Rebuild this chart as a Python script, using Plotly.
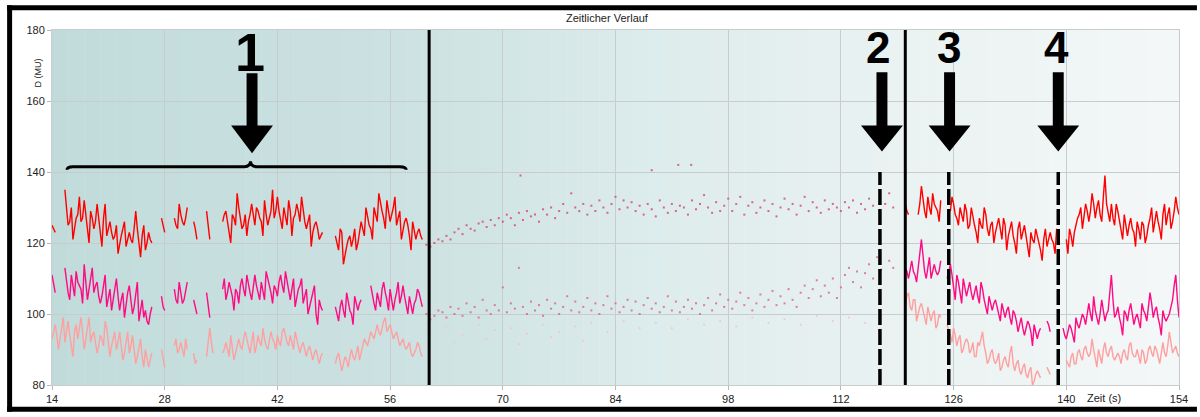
import plotly.graph_objects as go

# ---------------- data ----------------
X_TICKS = [14, 28, 42, 56, 70, 84, 98, 112, 126, 140, 154]
Y_TICKS = [80, 100, 120, 140, 160, 180]

# samples every 0.4 s (A) plus in-between samples (B, offset 0.2 s)
LEFT_START, RIGHT_START, STEP = 14.0, 120.0, 0.4

RED_LEFT = [125, 123, None, None, 135, 125, 130, 124, 128, 126,
            132, 125, 129, 124, 131, 123, 127, 122, 126, 121,
            125, 120, 124, 119, 123, 120, 129, 119, 122, 118,
            123, 120, None, None, 127, 123, None, None, 127, 124,
            128, 125, 130, None, 126, 121, None, None, 129, 121,
            None, None, None, 126, 129, 124, 128, 125, 130, 124,
            128, 126, 131, 125, 129, 126, 132, 125, 129, 127,
            133, 126, 130, 125, 129, 127, 131, 126, 129, 124,
            128, 123, 126, 121, 123, None, None, None, 122, 118,
            123, 117, 121, 119, 124, 120, 126, 122, 127, 124,
            130, 126, 131, 127, 132, 126, 130, 125, 129, 124,
            127, 122, 126, 121, 124, 121]
RED_LEFT_B = [124, None, None, None, 129, 126, 121, 127, 133, 127,
              128, 120, 127, 126, 127, 119, 131, 124, 123, 122,
              117, 122, 126, 121, 121, 124, 124, 116, 125, 120,
              121, None, None, None, 125, None, None, None, 125, 131,
              126, 127, None, None, 124, None, None, None, 125, None,
              None, None, None, 128, 126, 120, 127, 134, 127, 125,
              122, 128, 128, 130, 127, 122, 128, 127, 135, 129,
              129, 124, 127, 132, 122, 128, 129, 133, 126, 126,
              119, 125, 124, 122, None, None, None, None, 120, 124,
              114, 119, 122, 121, 118, 123, 124, 130, 125, 121,
              128, 134, 129, 124, 129, 128, 133, 127, 121, 126,
              125, 118, 123, 123, 122, None]
MAG_LEFT = [111, 106, None, None, 113, 106, 111, 105, 109, 107,
            114, 104, 110, 106, 109, 103, 108, 102, 107, 104,
            110, 101, 106, 103, 108, 100, 105, 98, 104, 101,
            97, 102, None, None, 105, 101, None, None, 107, 103,
            106, 104, 109, None, 104, 100, None, None, 106, 99,
            None, None, None, 107, 104, 109, 105, 107, 103, 110,
            105, 108, 104, 111, 106, 109, 104, 110, 106, 108,
            105, 111, 106, 109, 104, 110, 105, 108, 103, 107,
            102, 106, 100, 104, 101, None, None, None, 102, 98,
            104, 99, 103, 100, 105, 101, 104, None, None, 108,
            103, 106, 102, 109, 104, 107, 101, 106, 103, 108,
            102, 105, 100, 104, 106, 102]
MAG_LEFT_B = [108, None, None, None, 109, 104, 108, 112, 108, 103,
              109, 107, 113, 108, 105, 105, 111, 105, 101, 107,
              105, 104, 99, 106, 104, 102, 109, 101, 99, 98,
              100, None, None, None, 102, None, None, None, 104, 109,
              103, 107, None, None, 102, None, None, None, 102, None,
              None, None, None, 110, 106, 107, 101, 106, 108, 107,
              111, 106, 108, 108, 104, 106, 112, 108, 103, 107,
              109, 108, 112, 107, 107, 102, 107, 110, 105, 100,
              104, 108, 97, 102, None, None, None, None, 100, 102,
              101, 106, 101, 97, 103, 103, None, None, None, 105,
              101, 104, 107, 106, 101, 104, 104, 109, 105, 105,
              100, 102, 103, 107, 104, None]
SAL_LEFT = [93, 97, 90, 96, 92, 98, 91, 95, 93, 99,
            90, 96, 92, 95, 89, 94, 91, 96, 88, 93,
            90, 95, 87, 92, 89, 94, 86, 91, 88, 90,
            85, 89, None, None, 90, 85, None, None, 91, 89,
            92, 88, 90, None, 89, 87, None, None, 88, 96,
            89, None, None, 89, 92, 88, 91, 89, 93, 90,
            95, 91, 92, 89, 94, 91, 93, 90, 95, 92,
            94, 91, 96, 92, 94, 90, 93, 89, 92, 88,
            91, 87, 90, 86, 89, None, None, None, 86, 89,
            84, 88, 85, 90, 87, 91, 89, 93, 91, 95,
            93, 97, 94, 98, 95, 97, 93, 95, 91, 93,
            90, 92, 88, 90, 91, 88]
SAL_LEFT_B = [95, 94, 93, 99, 95, 94, 88, 97, 96, 95,
              93, 99, 94, 92, 91, 93, 98, 92, 91, 95,
              92, 90, 89, 95, 91, 90, 88, 93, 85, 87,
              87, None, None, None, 87, None, None, None, 93, 90,
              90, 93, None, None, 86, None, None, None, 92, 92,
              None, None, None, 90, 90, 94, 87, 91, 91, 93,
              93, 89, 95, 91, 92, 96, 91, 93, 93, 90,
              92, 95, 94, 91, 92, 95, 91, 91, 90, 90,
              89, 89, 88, 88, None, None, None, None, 88, 86,
              86, 87, 88, 88, 89, 87, 91, 92, 93, 94,
              95, 95, 96, 99, 96, 95, 94, 93, 92, 91,
              91, 89, 89, 92, 89, None]

RED_RIGHT = [131, 128, None, None, 128, 136, 129, 133, 128, 131,
             129, 132, None, None, 129, 131, 127, 130, 126, 129,
             125, 127, 123, 127, 124, 128, 122, 126, 123, 127,
             121, 125, 122, 126, 120, 124, 121, 125, 119, 123,
             120, 122, 118, 121, 119, 123, 120, 124, None, None,
             121, 124, 119, 125, 128, 124, 131, 126, 134, 127,
             132, 126, 139, 128, 131, 125, 129, 124, 128, 122,
             127, 123, 126, 121, 125, 122, 127, 123, 129, 124,
             128, 125, 130, 126, 133, 128]
RED_RIGHT_B = [129, None, None, None, 131, 132, 127, 130, 134, 130,
               126, None, None, None, 133, 128, 125, 128, 131, 124,
               130, 125, 120, 125, 130, 124, 125, 120, 125, 124,
               127, 118, 124, 122, 117, 126, 123, 122, 116, 121,
               124, 120, 115, 124, 121, 121, 117, None, None, None,
               117, 122, 123, 127, 130, 128, 129, 129, 131, 130,
               128, 133, 131, 126, 127, 131, 126, 121, 125, 125,
               124, 119, 124, 126, 120, 125, 130, 126, 126, 121,
               131, 128, 124, 129, 130, None]
MAG_RIGHT = [113, 110, 115, 111, 114, 121, 112, 113, 110, 114,
             111, 115, None, 110, 114, 107, 111, 106, 110, 105,
             109, 104, 108, 103, 107, 102, 105, 101, 104, 100,
             103, 99, 102, 97, 100, 95, 99, 94, 98, 95,
             97, 93, 96, None, 98, 95, None, None, None, 96,
             93, 97, 94, 99, 96, 100, 97, 103, 98, 101,
             97, 104, 98, 101, 111, 99, 102, 97, 101, 98,
             103, 97, 100, 96, 101, 98, 106, 99, 102, 97,
             101, 98, 100, 104, 111, 99]
MAG_RIGHT_B = [112, 113, 112, 109, 117, 116, 110, 116, 112, 112,
               112, None, None, 112, 111, 104, 109, 103, 107, 107,
               106, 106, 105, 109, 104, 100, 103, 103, 102, 98,
               101, 101, 99, 101, 98, 97, 96, 96, 97, 91,
               95, 95, None, None, 97, None, None, None, None, 94,
               95, 96, 92, 97, 98, 99, 100, 100, 105, 99,
               100, 101, 100, 106, 104, 100, 99, 94, 100, 101,
               100, 99, 98, 103, 100, 102, 103, 101, 99, 94,
               99, 99, 102, 108, 104, None]
SAL_RIGHT = [103, 106, 101, 104, 100, 103, 99, 102, 98, 101,
             97, 99, None, 97, 94, 96, 91, 94, 90, 93,
             89, 92, 88, 91, 95, 89, 87, 90, 86, 89,
             85, 88, 85, 91, 84, 87, 83, 86, 82, 85,
             81, 84, 82, None, 85, 83, None, None, None, None,
             87, 85, 89, 86, 90, 87, 91, 88, 93, 87,
             90, 86, 92, 88, 91, 87, 89, 86, 90, 87,
             92, 88, 90, 86, 89, 87, 91, 88, 90, 86,
             92, 88, 95, 89, 91, 88]
SAL_RIGHT_B = [105, 102, 104, 98, 102, 101, 97, 100, 100, 96,
               100, None, None, 95, 92, 94, 93, 89, 92, 92,
               90, 88, 92, 93, 91, 86, 89, 87, 87, 84,
               87, 86, 89, 86, 86, 84, 85, 83, 84, 80,
               83, 83, None, None, 84, None, None, None, None, None,
               86, 88, 86, 89, 88, 90, 89, 89, 90, 85,
               88, 90, 89, 90, 88, 88, 88, 89, 88, 91,
               89, 88, 88, 90, 86, 90, 89, 91, 88, 89,
               89, 91, 92, 90, 89, None]

DOT_HI_T = [60.5, 61.0, 61.5, 62.0, 62.5, 63.0, 63.5, 64.0, 64.5, 65.0, 65.5, 66.0, 66.5, 67.0,
            67.5, 68.0, 68.5, 69.0, 69.5, 70.0, 70.5, 71.0, 71.5, 72.0, 72.2, 72.5, 73.0, 73.5,
            74.0, 74.5, 75.0, 75.5, 76.0, 76.5, 77.0, 77.5, 78.0, 78.5, 79.0, 79.5, 80.0, 80.5,
            81.0, 81.5, 82.0, 82.5, 83.0, 83.5, 84.0, 84.5, 85.0, 85.5, 86.0, 86.5, 87.0, 87.5,
            88.0, 88.5, 88.5, 89.0, 89.5, 90.0, 90.5, 91.0, 91.5, 91.8, 92.0, 92.5, 93.0, 93.4,
            93.5, 94.0, 94.5, 95.0, 95.5, 96.0, 96.5, 97.0, 97.5, 98.0, 98.5, 99.0, 99.5, 100.0,
            100.5, 101.0, 101.5, 102.0, 102.5, 103.0, 103.5, 104.0, 104.5, 105.0, 105.5, 106.0,
            106.5, 107.0, 107.5, 108.0, 108.5, 109.0, 109.5, 110.0, 110.5, 111.0, 111.5, 112.0,
            112.5, 113.0, 113.5, 114.0, 114.5, 115.0, 115.5, 116.0, 117.5, 118.0, 118.5]
DOT_HI_V = [119.5, 119, 120, 121, 120.5, 122, 121, 123, 124, 122.5, 125, 124, 123.5, 125.5,
            126, 124.5, 126.5, 125, 127, 126, 128, 127, 125, 128.5, 139, 126.5, 129, 127.5,
            128, 126, 129.5, 128, 130, 127, 129, 131, 128.5, 134, 130, 129, 131, 128,
            130.5, 129, 132, 130, 128.5, 131, 133, 129.5, 132, 130, 131.5, 129, 130.5, 128,
            131, 129.5, 140.5, 127.5, 132, 130, 128.5, 131, 129, 142, 130.5, 130, 128, 142,
            132, 129.5, 131, 133.5, 130, 128.5, 131.5, 129, 130.5, 132.5, 129, 131, 133, 128,
            130.5, 131.5, 128.5, 130, 132, 129, 131, 127.5, 130, 132.5, 129.5, 131,
            128, 130.5, 133, 129, 131.5, 130, 128.5, 132, 129.5, 131, 130, 129,
            131.5, 130, 132, 128.5, 131, 129.5, 132.5, 130.5, 131, 134, 130]

DOT_LO_T = [60.5, 61.0, 61.5, 62.0, 62.5, 63.0, 63.5, 64.0, 64.5, 65.0, 65.5, 66.0, 66.5, 67.0,
            67.5, 68.0, 68.5, 69.0, 69.5, 70.0, 70.5, 71.0, 71.5, 72.0, 72.5, 73.0, 73.5, 74.0,
            74.5, 75.0, 75.5, 76.0, 76.5, 77.0, 77.5, 78.0, 78.5, 79.0, 79.5, 80.0, 80.5, 81.0,
            81.5, 82.0, 82.5, 83.0, 83.5, 84.0, 84.5, 85.0, 85.5, 86.0, 86.5, 87.0, 87.5, 88.0,
            88.5, 89.0, 89.5, 90.0, 90.5, 91.0, 91.5, 92.0, 92.5, 93.0, 93.5, 94.0, 94.5, 95.0,
            95.5, 96.0, 96.5, 97.0, 97.5, 98.0, 98.5, 99.0, 99.5, 100.0, 100.5, 101.0, 101.5,
            102.0, 102.5, 103.0, 103.5, 104.0, 104.5, 105.0, 105.5, 106.0, 106.5, 107.0, 107.5,
            108.0, 108.5, 109.0, 109.5, 110.0, 110.5, 111.0, 111.5, 112.0, 112.5, 113.0, 113.5,
            114.0, 114.5, 115.0, 115.5, 116.0, 116.5, 117.0, 118.0, 118.5]
DOT_LO_V = [100, 98.5, 99.5, 101, 100.5, 99, 102, 100, 101.5, 99.5, 103, 100.5, 102, 99,
            104, 101, 100, 102.5, 101, 107.5, 100.5, 103, 101.5, 113, 102, 100, 103.5, 101,
            102.5, 99.5, 104, 101.5, 103, 100, 102, 105, 101, 103.5, 100.5, 102, 104.5, 101,
            103, 100, 102.5, 105, 101.5, 103, 100.5, 102, 104, 101, 103.5, 100, 102.5, 104.5,
            101.5, 103, 100.5, 102, 105, 101, 103.5, 100.5, 102, 104, 101.5, 103, 100, 102.5,
            104.5, 101, 103, 105.5, 102, 104, 101.5, 103.5, 106, 102.5, 104.5, 101, 103,
            105.5, 102, 104, 106.5, 102.5, 105, 103, 107, 104, 102, 106, 108,
            104.5, 107, 109.5, 105, 108, 106, 110, 104.5, 107.5, 111, 113, 109,
            112, 107.5, 111.5, 114, 110, 116, 112.5, 115, 113]

DOT_FAINT_T = [61, 63, 64, 65, 67, 68, 69, 71, 72, 73, 75, 76, 77, 79, 80, 81, 83, 85, 87,
               89, 91, 93, 95, 97, 99, 101, 103, 105, 107, 109, 111, 113, 115, 117]
DOT_FAINT_V = [95, 96.5, 92, 94, 97, 93, 95.5, 96, 91.5, 94.5, 97, 93.5, 95, 96.5, 92.5, 97.5,
               95, 98, 96, 97.5, 96, 98.5, 97, 98, 96.5, 99, 97.5, 98.5, 97, 99.5, 98, 99,
               97.5, 99.5]

# event markers
SOLID_LINES = [60.85, 120.0]
DASHED_LINES = [116.85, 125.4, 139.0]
LABELS = ["1", "2", "3", "4"]
LABEL_T = [38.6, 116.6, 125.4, 138.8]
ARROW_T = [38.85, 117.1, 125.5, 139.0]

# ---------------- figure ----------------
PL, PR, PT, PB = 52, 18, 30, 27
W, H = 1200, 417
PW, PH = W - PL - PR, H - PT - PB


def px(x):
    return (x - PL) / PW


def py(y):
    return (H - PB - y) / PH


def merge(a, b, start):
    ts, vs = [], []
    for i in range(len(a)):
        ts.append(start + STEP * i)
        vs.append(a[i])
        if i < len(b):
            ts.append(start + STEP * i + STEP / 2)
            vs.append(b[i])
    return ts, vs


RED = "#ff0000"
MAG = "#ff0a84"
SAL = "#ffa0a0"

fig = go.Figure()

for a, b, start, col in [
    (SAL_LEFT, SAL_LEFT_B, LEFT_START, SAL), (MAG_LEFT, MAG_LEFT_B, LEFT_START, MAG),
    (RED_LEFT, RED_LEFT_B, LEFT_START, RED),
    (SAL_RIGHT, SAL_RIGHT_B, RIGHT_START, SAL), (MAG_RIGHT, MAG_RIGHT_B, RIGHT_START, MAG),
    (RED_RIGHT, RED_RIGHT_B, RIGHT_START, RED),
]:
    tt, vv = merge(a, b, start)
    fig.add_trace(go.Scatter(x=tt, y=vv, mode="lines",
                             line=dict(color=col, width=1.4), hoverinfo="skip"))

fig.add_trace(go.Scatter(x=DOT_FAINT_T, y=DOT_FAINT_V, mode="markers",
                         marker=dict(symbol="square", size=1.8, color="#f2c4d0"), hoverinfo="skip"))
fig.add_trace(go.Scatter(x=DOT_LO_T, y=DOT_LO_V, mode="markers",
                         marker=dict(symbol="square", size=2, color="#e0607f", opacity=0.8),
                         hoverinfo="skip"))
fig.add_trace(go.Scatter(x=DOT_HI_T, y=DOT_HI_V, mode="markers",
                         marker=dict(symbol="square", size=2, color="#d84468", opacity=0.8),
                         hoverinfo="skip"))

shapes = []

# background gradient (left teal to right near-white)
stops = [(14, (193, 219, 219)), (60, (205, 226, 226)), (90, (222, 236, 236)),
         (120, (234, 242, 242)), (154, (244, 247, 247))]
N = 70
for k in range(N):
    x0 = 14 + k * 140 / N
    x1 = 14 + (k + 1) * 140 / N
    xm = (x0 + x1) / 2
    for (a, ca), (b, cb) in zip(stops[:-1], stops[1:]):
        if a <= xm <= b:
            f = (xm - a) / (b - a)
            c = tuple(round(ca[j] + (cb[j] - ca[j]) * f) for j in range(3))
            break
    shapes.append(dict(type="rect", xref="x", yref="paper", x0=x0, x1=x1 + 0.05, y0=0, y1=1,
                       fillcolor="rgb(%d,%d,%d)" % c, line=dict(width=0), layer="below"))

# solid and dashed event lines
for s in SOLID_LINES:
    shapes.append(dict(type="line", xref="x", yref="y", x0=s, x1=s, y0=80, y1=180,
                       line=dict(color="black", width=3), layer="above"))
for d in DASHED_LINES:
    shapes.append(dict(type="line", xref="x", yref="y", x0=d, x1=d, y0=80, y1=140,
                       line=dict(color="black", width=3.5, dash="16px,4px"), layer="above"))


# arrows
def arrow(c, yt, yb, ytip, hs=0.68, hh=2.6):
    p = (f"M {c-hs},{yt} L {c+hs},{yt} L {c+hs},{yb} L {c+hh},{yb} L {c},{ytip} "
         f"L {c-hh},{yb} L {c-hs},{yb} Z")
    return dict(type="path", xref="x", yref="y", path=p, fillcolor="black",
                line=dict(color="black", width=0), layer="above")


shapes.append(arrow(ARROW_T[0], 167.8, 153.1, 145.3))
for c in ARROW_T[1:]:
    shapes.append(arrow(c, 168.1, 153.1, 145.8))

# bracket over region 1
bp = ("M 15.86,140.6 Q 15.86,141.5 16.6,141.5 L 37.9,141.5 Q 38.66,141.5 38.66,143 "
      "Q 38.66,141.5 39.4,141.5 L 57.2,141.5 Q 58.0,141.5 58.0,140.6")
shapes.append(dict(type="path", xref="x", yref="y", path=bp,
                   line=dict(color="black", width=3), layer="above"))

# outer black frame (top, left, bottom)
for (x0, y0, x1, y1) in [(7, 5, 1200, 10), (7, 5, 12, 417), (7, 412, 1200, 417)]:
    shapes.append(dict(type="rect", xref="paper", yref="paper",
                       x0=px(x0), x1=px(x1), y0=py(y1), y1=py(y0),
                       fillcolor="black", line=dict(width=0), layer="above"))

annotations = []
FONT = "Liberation Sans, Arial, sans-serif"
for lab, t in zip(LABELS, LABEL_T):
    big = lab == "1"
    annotations.append(dict(x=t, y=173.9 if big else 175.0, xref="x", yref="y",
                            text=f"<b>{lab}</b>", showarrow=False,
                            font=dict(family=FONT, size=54 if big else 44, color="black"),
                            xanchor="center", yanchor="middle"))
annotations.append(dict(x=px(609), y=py(18), xref="paper", yref="paper",
                        text="Zeitlicher Verlauf", showarrow=False,
                        font=dict(family=FONT, size=11, color="#222"),
                        xanchor="center", yanchor="middle"))
annotations.append(dict(x=px(38), y=py(74), xref="paper", yref="paper",
                        text="D (MU)", showarrow=False, textangle=-90,
                        font=dict(family=FONT, size=9, color="#222"),
                        xanchor="center", yanchor="middle"))
annotations.append(dict(x=px(1107), y=py(403), xref="paper", yref="paper",
                        text="Zeit (s)", showarrow=False,
                        font=dict(family=FONT, size=11, color="#222"),
                        xanchor="center", yanchor="middle"))

fig.update_layout(
    width=W, height=H,
    margin=dict(l=PL, r=PR, t=PT, b=PB),
    paper_bgcolor="white", plot_bgcolor="rgba(0,0,0,0)",
    showlegend=False,
    shapes=shapes, annotations=annotations,
    xaxis=dict(range=[14, 154], tickvals=X_TICKS, ticktext=[str(v) for v in X_TICKS],
               showgrid=True, gridcolor="#c8cccc", gridwidth=1, zeroline=False,
               showline=True, linecolor="#c8cccc", mirror=True,
               ticks="outside", ticklen=4, tickcolor="#b8b8b8",
               tickfont=dict(family=FONT, size=11, color="#222")),
    yaxis=dict(range=[80, 180], tickvals=Y_TICKS, ticktext=[str(v) for v in Y_TICKS],
               showgrid=True, gridcolor="#c8cccc", gridwidth=1, zeroline=False,
               showline=True, linecolor="#c8cccc", mirror=True,
               ticks="outside", ticklen=4, tickcolor="#b8b8b8",
               tickfont=dict(family=FONT, size=11, color="#222")),
)

fig.write_html("out.html",
               config={"displayModeBar": False},
               post_script="document.body.style.margin='0';document.body.style.padding='0';"
                           "document.body.style.overflow='hidden';")
